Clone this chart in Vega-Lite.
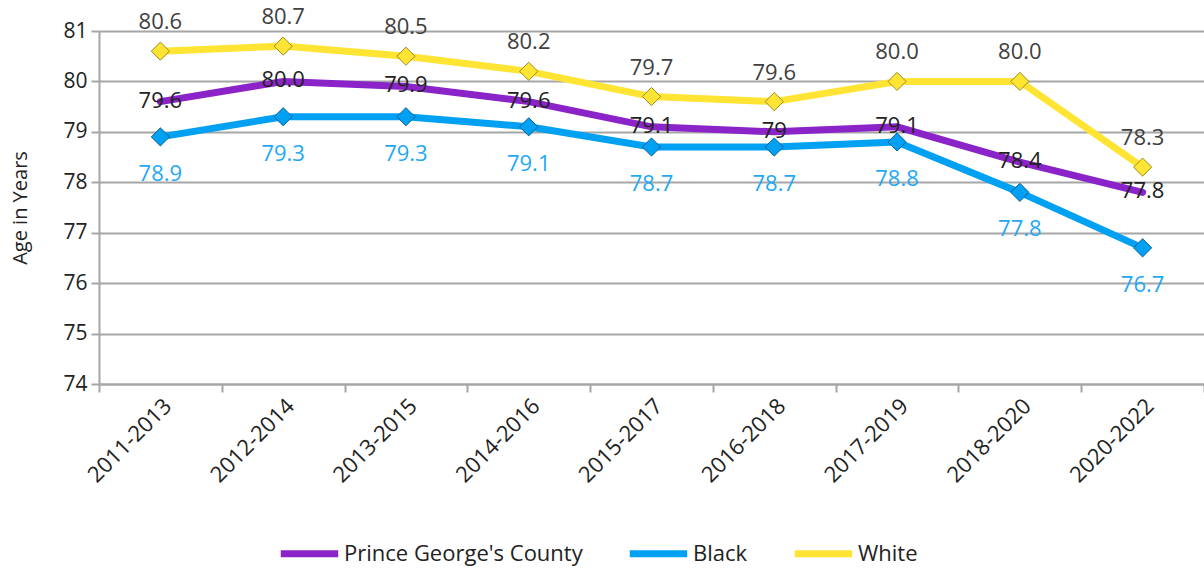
{
  "$schema": "https://vega.github.io/schema/vega-lite/v6.json",
  "width": 1105,
  "height": 353,
  "autosize": {"type": "none"},
  "padding": {"left": 99, "top": 31, "right": 0, "bottom": 185},
  "background": "white",
  "config": {
    "view": {"stroke": null},
    "font": "Open Sans",
    "axis": {"labelFont": "Open Sans", "titleFont": "Open Sans"},
    "legend": {"labelFont": "Open Sans"}
  },
  "data": {
    "values": [
      {"period": "2011-2013", "series": "Prince George's County", "value": 79.6, "label": "79.6"},
      {"period": "2012-2014", "series": "Prince George's County", "value": 80.0, "label": "80.0"},
      {"period": "2013-2015", "series": "Prince George's County", "value": 79.9, "label": "79.9"},
      {"period": "2014-2016", "series": "Prince George's County", "value": 79.6, "label": "79.6"},
      {"period": "2015-2017", "series": "Prince George's County", "value": 79.1, "label": "79.1"},
      {"period": "2016-2018", "series": "Prince George's County", "value": 79.0, "label": "79"},
      {"period": "2017-2019", "series": "Prince George's County", "value": 79.1, "label": "79.1"},
      {"period": "2018-2020", "series": "Prince George's County", "value": 78.4, "label": "78.4"},
      {"period": "2020-2022", "series": "Prince George's County", "value": 77.8, "label": "77.8"},
      {"period": "2011-2013", "series": "Black", "value": 78.9, "label": "78.9"},
      {"period": "2012-2014", "series": "Black", "value": 79.3, "label": "79.3"},
      {"period": "2013-2015", "series": "Black", "value": 79.3, "label": "79.3"},
      {"period": "2014-2016", "series": "Black", "value": 79.1, "label": "79.1"},
      {"period": "2015-2017", "series": "Black", "value": 78.7, "label": "78.7"},
      {"period": "2016-2018", "series": "Black", "value": 78.7, "label": "78.7"},
      {"period": "2017-2019", "series": "Black", "value": 78.8, "label": "78.8"},
      {"period": "2018-2020", "series": "Black", "value": 77.8, "label": "77.8"},
      {"period": "2020-2022", "series": "Black", "value": 76.7, "label": "76.7"},
      {"period": "2011-2013", "series": "White", "value": 80.6, "label": "80.6"},
      {"period": "2012-2014", "series": "White", "value": 80.7, "label": "80.7"},
      {"period": "2013-2015", "series": "White", "value": 80.5, "label": "80.5"},
      {"period": "2014-2016", "series": "White", "value": 80.2, "label": "80.2"},
      {"period": "2015-2017", "series": "White", "value": 79.7, "label": "79.7"},
      {"period": "2016-2018", "series": "White", "value": 79.6, "label": "79.6"},
      {"period": "2017-2019", "series": "White", "value": 80.0, "label": "80.0"},
      {"period": "2018-2020", "series": "White", "value": 80.0, "label": "80.0"},
      {"period": "2020-2022", "series": "White", "value": 78.3, "label": "78.3"}
    ]
  },
  "encoding": {
    "x": {
      "field": "period",
      "type": "ordinal",
      "bandPosition": 0.5,
      "scale": {"type": "band", "paddingInner": 0, "paddingOuter": 0},
      "axis": {
        "title": null,
        "labelAngle": -45,
        "labelFontSize": 22,
        "labelColor": "#222222",
        "labelPadding": 3,
        "tickBand": "extent",
        "tickSize": 8,
        "tickWidth": 2,
        "tickColor": "#a6a6a6",
        "domainColor": "#a6a6a6",
        "domainWidth": 2,
        "grid": false
      }
    },
    "y": {
      "field": "value",
      "type": "quantitative",
      "scale": {"domain": [74, 81], "nice": false, "zero": false},
      "axis": {
        "title": "Age in Years",
        "titleFontSize": 20,
        "titleFontWeight": "normal",
        "titleColor": "#222222",
        "titlePadding": 32,
        "values": [74, 75, 76, 77, 78, 79, 80, 81],
        "labelFontSize": 21,
        "labelColor": "#222222",
        "labelPadding": 4,
        "tickSize": 8,
        "tickWidth": 2,
        "tickColor": "#a6a6a6",
        "domainColor": "#a6a6a6",
        "domainWidth": 2,
        "grid": true,
        "gridColor": "#a6a6a6",
        "gridWidth": 2
      }
    }
  },
  "layer": [
    {
      "mark": {"type": "line", "strokeWidth": 7, "strokeCap": "round"},
      "encoding": {
        "color": {
          "field": "series",
          "type": "nominal",
          "scale": {
            "domain": ["Prince George's County", "Black", "White"],
            "range": ["#8b24c8", "#00a0f2", "#ffe433"]
          },
          "legend": {
            "title": null,
            "orient": "none",
            "direction": "horizontal",
            "legendX": 178,
            "legendY": 490,
            "symbolType": "stroke",
            "symbolStrokeWidth": 7,
            "symbolSize": 3300,
            "labelFontSize": 22,
            "labelColor": "#222222",
            "labelLimit": 400,
            "labelOffset": 2,
            "columnPadding": 32,
            "padding": 0
          }
        }
      }
    },
    {
      "transform": [{"filter": "datum.series != \"Prince George's County\""}],
      "mark": {"type": "point", "shape": "diamond", "filled": true, "size": 330, "strokeWidth": 1, "opacity": 1},
      "encoding": {
        "fill": {
          "field": "series",
          "type": "nominal",
          "scale": {"domain": ["Black", "White"], "range": ["#00a0f2", "#ffe433"]},
          "legend": null
        },
        "stroke": {
          "field": "series",
          "type": "nominal",
          "scale": {"domain": ["Black", "White"], "range": ["#0a5f92", "#9b8a20"]},
          "legend": null
        }
      }
    },
    {
      "transform": [{"filter": "datum.series == \"Prince George's County\""}],
      "mark": {"type": "text", "fontSize": 22, "color": "#222222", "baseline": "middle", "dy": -1},
      "encoding": {"text": {"field": "label"}}
    },
    {
      "transform": [{"filter": "datum.series == 'Black'"}],
      "mark": {"type": "text", "fontSize": 22, "color": "#1fa8f5", "baseline": "middle", "dy": 37},
      "encoding": {"text": {"field": "label"}}
    },
    {
      "transform": [{"filter": "datum.series == 'White'"}],
      "mark": {"type": "text", "fontSize": 22, "color": "#404040", "baseline": "middle", "dy": -29},
      "encoding": {"text": {"field": "label"}}
    }
  ],
  "resolve": {"scale": {"color": "independent", "fill": "independent", "stroke": "independent"}}
}
